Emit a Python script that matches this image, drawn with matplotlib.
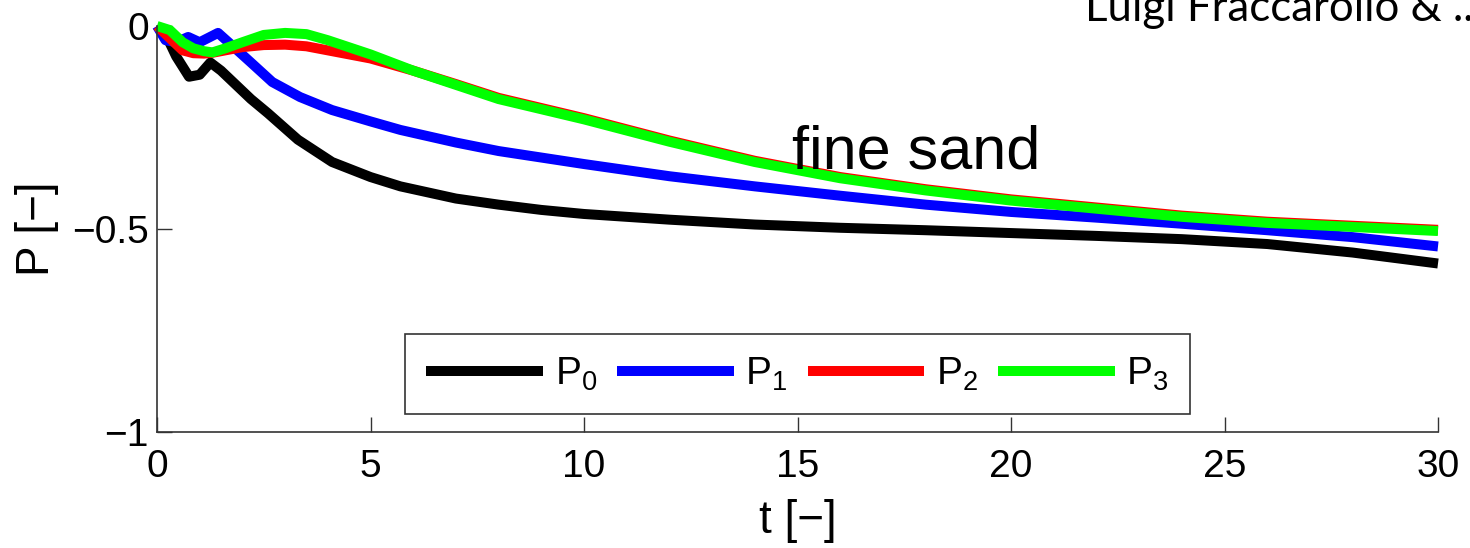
import numpy as np
import matplotlib.pyplot as plt
import matplotlib

# Pressure curves, fine sand case
t0 = [0, 0.2, 0.45, 0.75, 1.0, 1.25, 1.5, 1.8, 2.2, 2.6, 3.3, 4.1, 5, 5.7, 7, 8, 9, 10, 12, 14, 16, 18, 20, 22, 24, 26, 28, 30]
p0 = [0, -0.02, -0.075, -0.125, -0.12, -0.09, -0.11, -0.14, -0.18, -0.215, -0.28, -0.335, -0.372, -0.395, -0.425,
      -0.44, -0.453, -0.463, -0.477, -0.489, -0.497, -0.503, -0.51, -0.517, -0.525, -0.537, -0.558, -0.585]

t1 = [0, 0.2, 0.45, 0.73, 1.0, 1.43, 1.78, 2.2, 2.7, 3.35, 4.1, 5, 5.7, 7, 8, 10, 12, 14, 16, 18, 20, 22, 24, 26, 28, 30]
p1 = [0, -0.035, -0.04, -0.027, -0.04, -0.017, -0.05, -0.09, -0.138, -0.175, -0.207, -0.235, -0.256, -0.287,
      -0.308, -0.34, -0.37, -0.395, -0.418, -0.44, -0.458, -0.472, -0.487, -0.503, -0.52, -0.543]

t23 = [0, 0.3, 0.6, 0.85, 1.1, 1.3, 1.6, 2, 2.5, 3, 3.5, 4, 5, 6, 7, 8, 10, 12, 14, 16, 18, 20, 22, 24, 26, 28, 30]
p2 = [0, -0.03, -0.06, -0.067, -0.068, -0.066, -0.06, -0.052, -0.047, -0.046, -0.05, -0.06, -0.08, -0.11, -0.143,
      -0.177, -0.227, -0.282, -0.332, -0.372, -0.402, -0.427, -0.447, -0.467, -0.482, -0.492, -0.502]
p3 = [0, -0.01, -0.04, -0.055, -0.062, -0.065, -0.055, -0.04, -0.022, -0.017, -0.02, -0.035, -0.07, -0.11, -0.145,
      -0.18, -0.23, -0.285, -0.335, -0.375, -0.405, -0.43, -0.45, -0.47, -0.485, -0.495, -0.505]

labels = ['$\\mathregular{P_0}$', '$\\mathregular{P_1}$', '$\\mathregular{P_2}$', '$\\mathregular{P_3}$']
colors = ['black', '#0000ff', '#ff0000', '#00ff00']

matplotlib.rc('font', family='Liberation Sans')
fig = plt.figure(figsize=(14.7, 5.48), dpi=100)
ax = fig.add_axes([157/1470, 1-432/548, 1281/1470, 406/548])

for tt, pp, c, lab in zip([t0, t1, t23, t23], [p0, p1, p2, p3], colors, labels):
    ax.plot(tt, pp, color=c, lw=7.2, label=lab, clip_on=False, solid_capstyle='butt')

ax.set_xlim(0, 30)
ax.set_ylim(-1, 0)
ax.set_xticks([0, 5, 10, 15, 20, 25, 30])
ax.set_yticks([-1, -0.5, 0])
ax.set_yticklabels(['\u22121', '\u22120.5', '0'])
ax.tick_params(direction='in', length=11, width=1, labelsize=28, color='#333333')
ax.tick_params(axis='x', pad=12)
ax.tick_params(axis='y', pad=6)
ax.spines['top'].set_visible(False)
ax.spines['right'].set_visible(False)
for s in ['left', 'bottom']:
    ax.spines[s].set_color('#333333')
    ax.spines[s].set_linewidth(1.2)

ax.set_xlabel('t [\u2212]', fontsize=33, labelpad=10)
ax.set_ylabel('P [\u2212]', fontsize=33, labelpad=9)

ax.text(14.87, -0.35, 'fine sand', fontsize=44, va='baseline', ha='left')

leg = ax.legend(ncol=4, loc='lower left', bbox_to_anchor=(0.1936, 0.0443, 0.6128, 0.1995), mode='expand',
                fontsize=28, handlelength=3.0, handletextpad=0.3, columnspacing=0.67, borderpad=0.55,
                borderaxespad=0, fancybox=False, framealpha=1, edgecolor='#333333')
leg.get_frame().set_linewidth(1.2)

fig.text(1085/1470, 1-21/548, 'Luigi Fraccarollo & ..', fontsize=31.5, family='Lato', va='baseline', ha='left')

fig.savefig('out.png', dpi=100)
